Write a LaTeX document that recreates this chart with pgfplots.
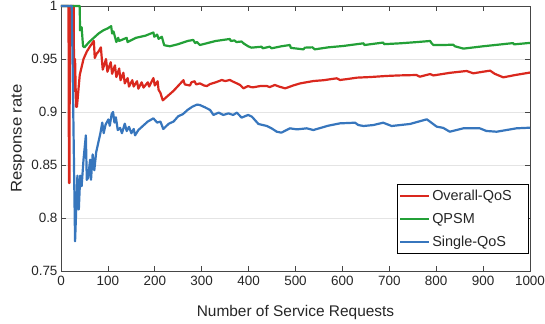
\documentclass[border=0pt]{standalone}
\usepackage{fontspec}
\setmainfont{Liberation Sans}
\usepackage{pgfplots}
\pgfplotsset{compat=1.18}
\definecolor{cred}{RGB}{218,40,30}
\definecolor{cgreen}{RGB}{35,160,55}
\definecolor{cblue}{RGB}{55,118,189}
\definecolor{txt}{RGB}{38,38,38}
\definecolor{axc}{RGB}{70,70,70}
\begin{document}
\begin{tikzpicture}
\begin{axis}[
  name=ax,
  scale only axis,
  width=469bp, height=265bp,
  xmin=0, xmax=1000, ymin=0.75, ymax=1,
  xtick={0,100,...,1000},
  ytick={0.75,0.8,0.85,0.9,0.95,1},
  yticklabels={0.75,0.8,0.85,0.9,0.95,1},
  /pgf/number format/1000 sep={},
  /pgf/number format/assume math mode=true,
  tick align=inside,
  major tick length=5bp,
  ymajorgrids,
  major grid style={draw={rgb,255:red,228;green,228;blue,228}, line width=0.6bp},
  axis line style={draw=axc, line width=0.8bp},
  tick style={draw=axc, line width=0.7bp},
  ticklabel style={font=\fontsize{13.5}{15}\selectfont, text=txt},
  xticklabel style={yshift=-2bp},
  xlabel={Number of Service Requests},
  ylabel={\scalebox{1.08}[1]{Response rate}},
  label style={font=\fontsize{15.5}{18}\selectfont, text=txt},
  xlabel style={at={(axis description cs:0.5,-0.1560)}, anchor=center},
  ylabel style={at={(axis description cs:-0.0917,0.5)}, anchor=center, rotate=0},
  clip=false,
  legend cell align=left,
  legend style={at={(axis description cs:0.998,0.064)}, anchor=south east,
    draw=black, line width=0.7bp, font=\fontsize{14.5}{16}\selectfont, text=txt,
    row sep=7bp, inner xsep=2bp, inner ysep=4bp},
  legend image code/.code={\draw[#1, line width=2.3bp] (0bp,0bp) -- (29bp,0bp);},
  every axis plot/.append style={line width=2.2bp, line join=round},
]
\addplot[cred] coordinates {
(0,1)(16,1)(17,0.833)(18,0.833)(19,1)(27,1)(28,0.92)(30,0.95)(32,0.905)(34,0.905)
(40,0.935)(48,0.950)(55,0.957)(62,0.962)(70,0.967)(72,0.951)(76,0.955)(80,0.957)(85,0.961)
(89,0.940)(96,0.950)(99,0.938)(106,0.947)(109,0.936)(115,0.944)(118,0.933)(124,0.941)
(127,0.930)(133,0.937)(136,0.927)(142,0.932)(145,0.924)(152,0.930)(155,0.924)(162,0.929)
(165,0.922)(172,0.928)(176,0.923)(185,0.928)(188,0.924)(197,0.932)(200,0.925)(206,0.929)
(208,0.921)(212,0.918)(217,0.911)(240,0.920)(261,0.930)(264,0.926)(275,0.925)(278,0.928)
(285,0.929)(288,0.926)(296,0.927)(305,0.925)(311,0.9245)(318,0.9264)(330,0.928)(343,0.9302)
(350,0.9292)(360,0.9302)(367,0.9286)(375,0.927)(382,0.9255)(389,0.9223)(399,0.9245)
(405,0.9235)(410,0.9233)(425,0.9245)(439,0.9245)(445,0.9235)(456,0.9255)(465,0.9240)
(478,0.9223)(495,0.925)(510,0.927)(538,0.9292)(560,0.930)(588,0.9318)(595,0.9302)
(609,0.931)(631,0.9324)(660,0.933)(694,0.9340)(720,0.9345)(758,0.9349)(765,0.9333)
(787,0.9358)(794,0.9345)(830,0.937)(865,0.9387)(879,0.9365)(900,0.938)(915,0.9390)
(925,0.936)(943,0.9327)(970,0.935)(1000,0.9372)
};
\addlegendentry{Overall-QoS\hspace*{13bp}}
\addplot[cgreen] coordinates {
(0,1)(40,1)(40.5,0.977)(44,0.980)(47,0.962)(50,0.961)(60,0.966)(70,0.970)(80,0.974)
(90,0.977)(100,0.979)(107,0.981)(109,0.974)(112,0.976)(118,0.966)(122,0.970)(124,0.967)
(140,0.970)(142,0.966)(160,0.970)(180,0.972)(197,0.975)(199,0.971)(205,0.973)(208,0.969)
(215,0.971)(220,0.963)(232,0.962)(250,0.964)(270,0.967)(282,0.968)(286,0.965)(290,0.966)
(296,0.9632)(330,0.967)(360,0.9689)(362,0.9670)(370,0.9675)(374,0.9660)(385,0.9665)
(390,0.9645)(399,0.962)(406,0.9607)(428,0.9616)(430,0.9601)(445,0.9616)(449,0.9601)
(470,0.9620)(488,0.9632)(490,0.9605)(517,0.9591)(520,0.9607)(536,0.9610)(541,0.9591)
(570,0.9610)(602,0.9623)(645,0.9648)(647,0.9632)(687,0.9655)(689,0.9640)(723,0.9648)
(760,0.966)(787,0.9670)(790,0.9650)(794,0.9632)(815,0.9632)(836,0.9635)(840,0.9620)
(858,0.9598)(900,0.9620)(964,0.9650)(966,0.9638)(1000,0.9652)
};
\addlegendentry{QPSM}
\addplot[cblue] coordinates {
(0,1)(23,1)(30,0.778)(35,0.840)(38,0.808)(41,0.840)(44,0.830)(48,0.855)(53,0.878)
(55,0.836)(58,0.838)(62,0.855)(64,0.836)(67.5,0.860)(71,0.845)(75,0.862)(80,0.872)
(84,0.880)(88,0.890)(91,0.880)(95,0.888)(101,0.893)(104,0.887)(108,0.898)(111,0.900)
(114,0.890)(117,0.895)(121,0.883)(126,0.885)(130,0.880)(136,0.889)(140,0.882)(145,0.886)
(150,0.880)(155,0.884)(158,0.878)(165,0.883)(175,0.887)(185,0.891)(197,0.894)(205,0.890)
(212,0.891)(218,0.884)(230,0.889)(240,0.891)(250,0.896)(260,0.898)(270,0.902)(280,0.905)
(290,0.907)(296,0.9066)(307,0.9044)(318,0.9019)(325,0.8972)(336,0.8994)(346,0.8972)
(357,0.8987)(367,0.8972)(375,0.8994)(385,0.8947)(399,0.8972)(407,0.8956)(421,0.8887)
(439,0.8868)(449,0.8846)(460,0.8814)(470,0.8805)(488,0.8846)(503,0.8836)(524,0.8846)
(538,0.8830)(570,0.8871)(595,0.8893)(627,0.8899)(634,0.8877)(645,0.8868)(666,0.8877)
(687,0.8899)(705,0.8868)(744,0.8887)(780,0.8931)(801,0.8862)(815,0.885)(829,0.8814)
(858,0.8846)(893,0.8846)(907,0.8821)(929,0.8814)(971,0.8846)(1000,0.8852)
};
\addlegendentry{Single-QoS}
\end{axis}
\pgfresetboundingbox
\path (ax.south west) ++(-61bp,-53bp) coordinate (bl);
\path (ax.north east) ++(15bp,6bp) coordinate (tr);
\path[use as bounding box] (bl) rectangle (tr);
\end{tikzpicture}
\end{document}
